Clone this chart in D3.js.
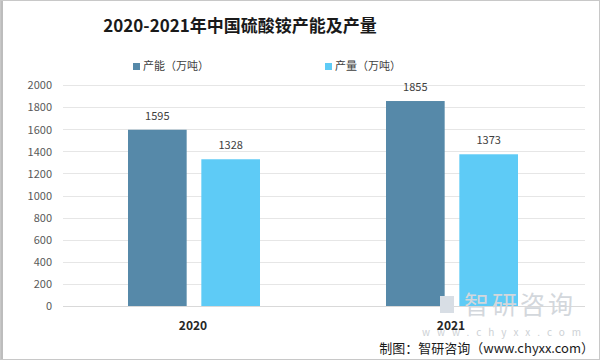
<!DOCTYPE html>
<html><head><meta charset="utf-8">
<script src="https://cdn.jsdelivr.net/npm/d3@7"></script>
<style>body{margin:0;background:#fff;font-family:"Noto Sans CJK SC","Noto Sans",sans-serif;}</style>
</head><body><svg id="c" width="600" height="360"></svg>
<script>
const years = ["2020", "2021"];
const seriesNames = ["产能（万吨）", "产量（万吨）"];
const capacity = [1595, 1855];
const production = [1328, 1373];
const yTicks = [0, 200, 400, 600, 800, 1000, 1200, 1400, 1600, 1800, 2000];
const colors = ["#5689A9", "#5ECBF6"];

const svg = d3.select("#c");
const font = '"Noto Sans CJK SC","Noto Sans",sans-serif';
svg.append("rect").attr("x",0.5).attr("y",0.5).attr("width",599).attr("height",359).attr("fill","#fff").attr("stroke","#c8c8c8");
svg.append("rect").attr("x",1).attr("y",1).attr("width",2).attr("height",358).attr("fill","#bdbdbd");

const x0 = d3.scaleBand().domain(years).range([65, 581]).paddingInner(0).paddingOuter(0);
const x1 = d3.scaleBand().domain([0,1]).range([63, 195]).paddingInner(0.2).paddingOuter(0);
const y = d3.scaleLinear().domain([0, 2000]).range([306, 85]);

// gridlines
svg.append("g").selectAll("line").data(yTicks).join("line")
  .attr("x1", 63).attr("x2", 585).attr("y1", d => Math.round(y(d))+0.5).attr("y2", d => Math.round(y(d))+0.5)
  .attr("stroke", "#e6e6e6").attr("stroke-width", 1);

// y axis labels
const yAxis = d3.axisLeft(y).tickValues(yTicks).tickSize(0).tickPadding(0).tickFormat(d3.format("d"));
const ga = svg.append("g").attr("transform","translate(52,0)").call(yAxis);
ga.select(".domain").remove();
ga.selectAll("text").attr("font-family", font).attr("font-size", 11).attr("fill", "#595959").attr("dy","0.35em");

// bars
const data = years.map((yr,i) => ({yr, vals:[capacity[i], production[i]]}));
const groups = svg.append("g").selectAll("g").data(data).join("g")
  .attr("transform", d => `translate(${x0(d.yr)},0)`);
groups.selectAll("rect").data(d => d.vals).join("rect")
  .attr("x", (d,i) => x1(i)).attr("width", x1.bandwidth())
  .attr("y", d => y(d)).attr("height", d => y(0) - y(d))
  .attr("fill", (d,i) => colors[i]);
groups.selectAll("text").data(d => d.vals).join("text")
  .attr("x", (d,i) => x1(i) + x1.bandwidth()/2).attr("y", d => y(d) - 10)
  .attr("text-anchor","middle").attr("font-family", font).attr("font-size", 11).attr("fill","#404040")
  .text(d => d);

// x axis
svg.append("line").attr("x1",63).attr("x2",585).attr("y1",306.5).attr("y2",306.5).attr("stroke","#d9d9d9");

// watermark
svg.append("text").attr("x", 520).attr("y", 314).attr("text-anchor","middle").attr("font-family", font)
  .attr("font-size", 25).attr("fill", "#d3d7dc").attr("letter-spacing", 3).text("智研咨询");
svg.append("rect").attr("x",440).attr("y",296).attr("width",14).attr("height",17).attr("fill","#d8dee5");
svg.append("text").attr("x", 505).attr("y", 336).attr("text-anchor","middle").attr("font-family", font)
  .attr("font-size", 10).attr("fill", "#cdd1d5").attr("letter-spacing", 7).text("www.chyxx.com");

// x labels
svg.append("g").selectAll("text").data(years).join("text")
  .attr("x", d => x0(d) + x0.bandwidth()/2 - 1).attr("y", 330)
  .attr("text-anchor","middle").attr("font-family", font).attr("font-size", 12).attr("font-weight","bold").attr("fill","#262626")
  .text(d => d);

// title
svg.append("text").attr("x", 240).attr("y", 32).attr("text-anchor","middle").attr("font-family", font)
  .attr("font-size", 17).attr("font-weight","bold").attr("fill","#1a1a1a").text("2020-2021年中国硫酸铵产能及产量");

// legend
const legX = [133, 325];
const lg = svg.append("g").selectAll("g").data(seriesNames).join("g")
  .attr("transform", (d,i) => `translate(${legX[i]},66)`);
lg.append("rect").attr("x",0).attr("y",-3).attr("width",7).attr("height",7).attr("fill",(d,i)=>colors[i]);
lg.append("text").attr("x",10).attr("y",0).attr("dy","0.35em").attr("font-family", font).attr("font-size", 11).attr("fill","#404040").text(d=>d);

// footer
svg.append("text").attr("x", 594).attr("y", 353).attr("text-anchor","end").attr("font-family", font)
  .attr("font-size", 13).attr("fill","#1a1a1a").text("制图：智研咨询（www.chyxx.com）");
</script></body></html>
